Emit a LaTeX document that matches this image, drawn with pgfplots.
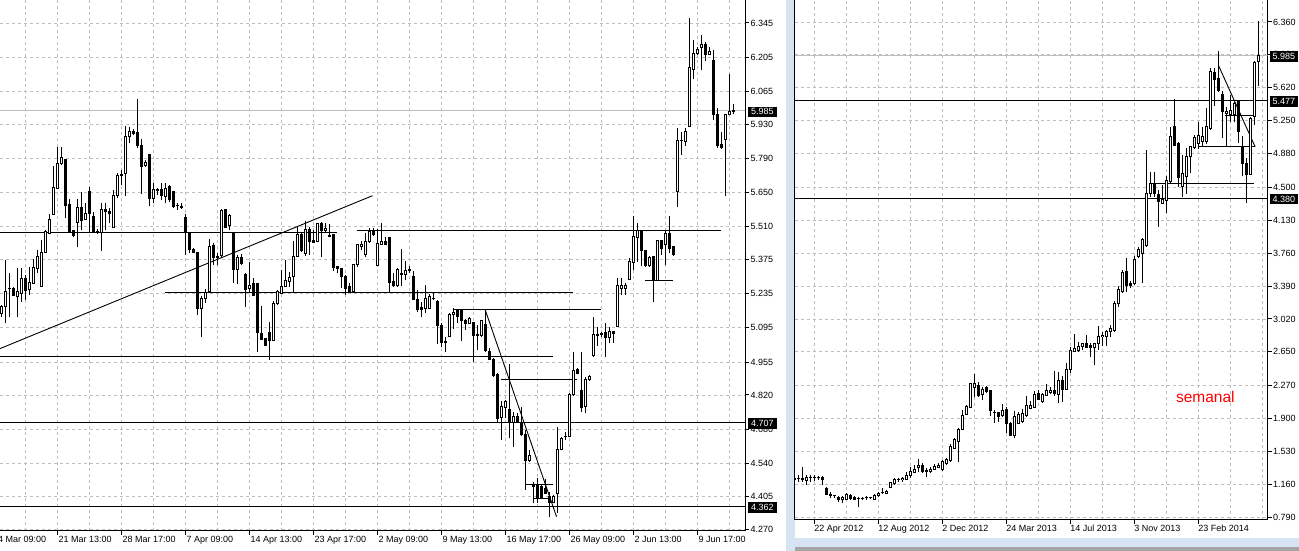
\documentclass[border=0pt]{standalone}
\usepackage{fontspec}
\setmainfont{Liberation Sans}
\usepackage{pgfplots}
\pgfplotsset{compat=1.18}
\usepackage{pgfplotstable}
\definecolor{gridc}{RGB}{190,190,190}
\definecolor{sepc}{RGB}{214,227,242}
\definecolor{barc}{RGB}{165,165,165}

\pgfplotstableread{
k o h l c
0 5.154 5.188 5.140 5.181
1 5.181 5.373 5.113 5.243
2 5.255 5.318 5.140 5.258
3 5.257 5.264 5.225 5.229
4 5.222 5.339 5.140 5.243
5 5.236 5.339 5.202 5.298
6 5.298 5.311 5.209 5.250
7 5.253 5.346 5.229 5.281
8 5.277 5.377 5.274 5.341
9 5.339 5.414 5.318 5.387
10 5.264 5.455 5.264 5.404
11 5.404 5.496 5.400 5.489
12 5.482 5.562 5.479 5.541
13 5.560 5.758 5.557 5.671
14 5.667 5.838 5.664 5.767
15 5.767 5.835 5.762 5.794
16 5.786 5.786 5.544 5.596
17 5.601 5.623 5.482 5.489
18 5.493 5.496 5.469 5.473
19 5.527 5.622 5.425 5.589
20 5.589 5.653 5.496 5.537
21 5.540 5.605 5.537 5.564
22 5.656 5.671 5.489 5.564
23 5.553 5.571 5.485 5.489
24 5.490 5.499 5.479 5.488
25 5.485 5.608 5.411 5.581
26 5.582 5.605 5.496 5.571
27 5.571 5.585 5.523 5.564
28 5.505 5.660 5.505 5.637
29 5.637 5.732 5.626 5.720
30 5.720 5.742 5.680 5.722
31 5.728 5.922 5.635 5.879
32 5.879 5.920 5.851 5.899
33 5.900 5.909 5.885 5.892
34 5.896 6.032 5.831 5.842
35 5.844 5.868 5.642 5.756
36 5.762 5.783 5.753 5.772
37 5.806 5.806 5.594 5.626
38 5.626 5.687 5.605 5.663
39 5.660 5.667 5.639 5.661
40 5.663 5.687 5.619 5.639
41 5.635 5.690 5.605 5.667
42 5.674 5.680 5.612 5.622
43 5.656 5.656 5.585 5.594
44 5.597 5.605 5.578 5.595
45 5.594 5.608 5.582 5.589
46 5.546 5.562 5.393 5.485
47 5.485 5.485 5.400 5.417
48 5.417 5.421 5.403 5.406
49 5.404 5.404 5.147 5.175
50 5.175 5.225 5.056 5.216
51 5.216 5.253 5.195 5.239
52 5.246 5.458 5.239 5.430
53 5.434 5.441 5.352 5.384
54 5.389 5.400 5.352 5.382
55 5.393 5.581 5.380 5.578
56 5.581 5.581 5.503 5.507
57 5.516 5.562 5.496 5.557
58 5.485 5.489 5.277 5.335
59 5.335 5.393 5.274 5.384
60 5.384 5.397 5.352 5.359
61 5.315 5.318 5.181 5.253
62 5.257 5.366 5.236 5.270
63 5.277 5.298 5.229 5.229
64 5.277 5.277 4.997 5.075
65 5.072 5.184 5.045 5.047
66 5.052 5.052 5.020 5.024
67 5.075 5.120 4.965 5.042
68 5.042 5.206 5.042 5.195
69 5.195 5.250 5.188 5.243
70 5.236 5.332 5.233 5.264
71 5.264 5.373 5.261 5.291
72 5.284 5.325 5.264 5.302
73 5.304 5.450 5.243 5.389
74 5.387 5.510 5.384 5.476
75 5.476 5.485 5.407 5.411
76 5.398 5.535 5.390 5.499
77 5.499 5.510 5.394 5.448
78 5.455 5.496 5.442 5.444
79 5.448 5.526 5.446 5.524
80 5.524 5.530 5.387 5.494
81 5.494 5.524 5.483 5.503
82 5.472 5.521 5.466 5.471
83 5.476 5.476 5.330 5.343
84 5.346 5.346 5.321 5.339
85 5.339 5.339 5.257 5.305
86 5.305 5.312 5.230 5.257
87 5.264 5.278 5.237 5.243
88 5.243 5.353 5.237 5.353
89 5.353 5.435 5.343 5.435
90 5.428 5.452 5.414 5.437
91 5.394 5.483 5.384 5.448
92 5.448 5.503 5.444 5.490
93 5.496 5.503 5.472 5.476
94 5.349 5.499 5.349 5.439
95 5.438 5.526 5.435 5.448
96 5.448 5.469 5.435 5.437
97 5.466 5.469 5.243 5.280
98 5.284 5.319 5.264 5.267
99 5.267 5.339 5.264 5.335
100 5.319 5.417 5.267 5.315
101 5.315 5.370 5.291 5.332
102 5.332 5.349 5.321 5.333
103 5.305 5.330 5.209 5.212
104 5.212 5.250 5.161 5.171
105 5.178 5.202 5.138 5.171
106 5.175 5.271 5.154 5.216
107 5.175 5.234 5.171 5.223
108 5.216 5.237 5.209 5.215
109 5.202 5.209 5.030 5.104
110 5.104 5.113 5.015 5.034
111 5.041 5.059 4.997 5.034
112 5.059 5.155 5.056 5.148
113 5.148 5.175 5.089 5.157
114 5.166 5.171 5.114 5.141
115 5.166 5.171 5.043 5.125
116 5.125 5.130 5.086 5.114
117 5.114 5.138 5.111 5.134
118 5.116 5.120 4.956 5.063
119 5.069 5.107 5.004 5.063
120 5.063 5.127 5.059 5.125
121 5.107 5.166 4.997 5.004
122 5.000 5.011 4.963 4.966
123 4.966 4.970 4.895 4.898
124 4.902 4.909 4.703 4.724
125 4.727 4.796 4.635 4.772
126 4.768 4.799 4.724 4.795
127 4.761 4.947 4.642 4.710
128 4.706 4.751 4.605 4.731
129 4.731 4.747 4.703 4.710
130 4.703 4.769 4.652 4.656
131 4.656 4.676 4.430 4.550
132 4.550 4.594 4.546 4.570
133 4.453 4.464 4.375 4.444
134 4.453 4.478 4.375 4.396
135 4.444 4.453 4.392 4.396
136 4.437 4.474 4.414 4.416
137 4.405 4.423 4.318 4.378
138 4.378 4.410 4.375 4.403
139 4.416 4.690 4.334 4.597
140 4.597 4.649 4.594 4.642
141 4.649 4.669 4.635 4.650
142 4.649 4.826 4.646 4.822
143 4.822 4.997 4.816 4.922
144 4.926 4.929 4.906 4.909
145 4.840 4.997 4.751 4.769
146 4.772 4.895 4.744 4.884
147 4.884 4.902 4.878 4.895
148 4.980 5.141 4.977 5.066
149 5.065 5.100 5.021 5.066
150 5.068 5.079 5.059 5.072
151 5.075 5.113 4.977 5.056
152 5.056 5.100 5.034 5.079
153 5.079 5.083 5.034 5.072
154 5.100 5.298 5.097 5.267
155 5.257 5.298 5.230 5.267
156 5.258 5.278 5.230 5.267
157 5.294 5.383 5.291 5.369
158 5.363 5.553 5.332 5.469
159 5.466 5.523 5.366 5.496
160 5.492 5.492 5.350 5.414
161 5.414 5.414 5.346 5.349
162 5.349 5.390 5.346 5.384
163 5.387 5.387 5.202 5.291
164 5.291 5.455 5.291 5.455
165 5.452 5.455 5.394 5.421
166 5.435 5.492 5.353 5.482
167 5.482 5.553 5.400 5.421
168 5.430 5.430 5.391 5.396
169 5.653 5.913 5.592 5.865
170 5.862 5.899 5.804 5.864
171 5.858 5.916 5.841 5.902
172 5.920 6.367 5.920 6.163
173 6.155 6.275 6.114 6.221
174 6.221 6.248 6.214 6.238
175 6.245 6.296 6.152 6.255
176 6.255 6.268 6.189 6.216
177 6.216 6.248 6.214 6.230
178 6.193 6.234 5.947 5.970
179 5.968 5.995 5.831 5.842
180 5.845 5.899 5.828 5.834
181 5.868 5.970 5.637 5.968
182 5.970 6.134 5.968 5.981
183 5.984 6.011 5.970 5.985
}\leftdata

\pgfplotstableread{
k o h l c
0 1.219 1.245 1.189 1.221
1 1.226 1.264 1.189 1.228
2 1.219 1.358 1.189 1.221
3 1.200 1.264 1.151 1.238
4 1.234 1.264 1.189 1.236
5 1.238 1.264 1.200 1.236
6 1.234 1.253 1.208 1.236
7 1.238 1.253 1.151 1.215
8 1.114 1.133 1.039 1.050
9 1.050 1.076 1.001 1.028
10 1.028 1.039 1.001 1.030
11 1.013 1.028 0.964 0.983
12 0.983 1.028 0.945 1.013
13 0.990 1.065 0.983 1.050
14 1.039 1.050 0.983 1.001
15 1.013 1.028 0.983 0.990
16 1.001 1.020 0.900 1.003
17 1.001 1.020 0.983 1.003
18 1.009 1.028 0.983 1.011
19 1.009 1.020 0.990 1.011
20 0.990 1.046 0.983 1.031
21 1.031 1.076 1.020 1.058
22 1.065 1.114 1.050 1.067
23 1.058 1.095 1.050 1.084
24 1.125 1.189 1.114 1.178
25 1.170 1.226 1.151 1.215
26 1.215 1.226 1.189 1.217
27 1.208 1.238 1.189 1.226
28 1.215 1.301 1.208 1.264
29 1.253 1.358 1.226 1.301
30 1.294 1.376 1.282 1.331
31 1.346 1.440 1.301 1.376
32 1.376 1.395 1.282 1.301
33 1.320 1.339 1.245 1.301
34 1.301 1.358 1.282 1.328
35 1.328 1.388 1.320 1.358
36 1.350 1.395 1.339 1.376
37 1.328 1.433 1.313 1.414
38 1.395 1.451 1.376 1.433
39 1.425 1.613 1.414 1.583
40 1.564 1.676 1.553 1.658
41 1.639 1.789 1.414 1.778
42 1.778 1.995 1.770 1.939
43 1.950 2.051 1.939 2.040
44 2.025 2.303 2.025 2.288
45 2.250 2.400 2.138 2.288
46 2.276 2.314 2.145 2.153
47 2.175 2.258 2.108 2.228
48 2.250 2.265 2.183 2.201
49 2.213 2.213 1.928 1.988
50 1.965 1.995 1.853 1.967
51 1.965 1.976 1.864 1.920
52 1.928 2.063 1.913 1.988
53 2.003 2.025 1.740 1.838
54 1.838 1.864 1.703 1.714
55 1.703 1.988 1.676 1.920
56 1.845 1.976 1.838 1.950
57 1.864 2.003 1.845 1.958
58 1.939 2.153 1.920 2.051
59 2.014 2.100 2.003 2.051
60 2.025 2.213 2.014 2.175
61 2.183 2.220 2.108 2.115
62 2.089 2.190 2.078 2.175
63 2.164 2.288 2.153 2.213
64 2.190 2.258 2.175 2.213
65 2.220 2.437 2.153 2.183
66 2.175 2.426 2.070 2.332
67 2.332 2.378 2.089 2.228
68 2.228 2.520 2.220 2.452
69 2.452 2.700 2.415 2.670
70 2.659 2.850 2.651 2.689
71 2.670 2.764 2.651 2.715
72 2.715 2.750 2.670 2.738
73 2.745 2.839 2.689 2.700
74 2.726 2.750 2.595 2.700
75 2.700 2.750 2.501 2.738
76 2.738 2.940 2.670 2.820
77 2.820 2.876 2.715 2.839
78 2.820 2.895 2.715 2.884
79 2.876 2.951 2.820 2.914
80 2.888 3.225 2.876 3.195
81 3.188 3.390 3.150 3.353
82 3.326 3.570 3.315 3.545
83 3.555 3.700 3.326 3.401
84 3.420 3.450 3.364 3.401
85 3.420 3.727 3.401 3.690
86 3.720 3.832 3.701 3.802
87 3.757 3.926 3.420 3.915
88 3.851 4.920 3.832 4.432
89 4.432 4.676 4.395 4.545
90 4.545 4.676 4.395 4.432
91 4.414 4.470 4.057 4.339
92 4.320 4.526 4.312 4.365
93 4.357 4.627 4.215 4.582
94 4.564 5.182 4.553 5.070
95 5.190 5.490 4.965 4.976
96 4.988 5.014 4.507 4.612
97 4.507 4.864 4.395 4.657
98 4.620 4.939 4.425 4.852
99 4.845 4.965 4.665 4.957
100 4.950 5.089 4.927 5.062
101 4.995 5.239 4.927 5.078
102 5.014 5.182 4.957 5.070
103 5.014 5.389 4.987 5.182
104 5.164 5.839 5.145 5.801
105 5.790 5.839 5.415 5.715
106 5.726 6.037 5.576 5.588
107 5.550 5.588 5.051 5.351
108 5.330 5.408 4.957 5.350
109 5.314 5.539 5.239 5.370
110 5.325 5.464 5.239 5.445
111 5.464 5.483 4.995 5.126
112 4.965 5.078 4.627 4.770
113 4.770 4.826 4.320 4.639
114 4.650 5.288 4.639 5.276
115 5.295 5.925 5.201 5.902
116 5.914 6.375 5.640 5.985
}\rightdata

% #1 table, #2 half-pixel in price units, #3 threshold (3 half-pixels)
\newcommand{\candles}[3]{%
  \addplot[black, line width=1pt, arrows=-,
    quiver={u=0, v=\thisrow{h}-\thisrow{l}}] table[x=k, y=l] {#1};
  \addplot[black, line width=3.4pt, arrows=-,
    quiver={u=0, v=abs(\thisrow{c}-\thisrow{o})+2*#2}]
    table[x=k, y expr={min(\thisrow{o},\thisrow{c})-#2}] {#1};
  \addplot[white, line width=1.4pt, arrows=-,
    restrict expr to domain={\thisrow{c}-\thisrow{o}}{#3:100},
    quiver={u=0, v=\thisrow{c}-\thisrow{o}-2*#2}]
    table[x=k, y expr={\thisrow{o}+#2}] {#1};
}

\pgfplotsset{
  mt/.style={
    scale only axis,
    axis x line*=bottom, axis y line*=right,
    axis line style={black, line width=1pt},
    grid=both,
    major grid style={gridc, line width=0.8pt, dash pattern=on 3pt off 3pt},
    minor grid style={gridc, line width=0.8pt, dash pattern=on 3pt off 3pt},
    tick style={black, line width=1pt},
    major tick length=4pt, minor tick length=0pt,
    tick align=outside,
    tick label style={font=\fontsize{9}{10}\selectfont, text=black},
    xticklabel style={anchor=north west, inner sep=0pt, xshift=1pt, yshift=-1pt},
    yticklabel style={anchor=west, inner sep=0pt, xshift=1.5pt},
  },
}

\begin{document}
\begin{tikzpicture}[x=1pt,y=1pt]
\fill[white] (0,0) rectangle (1299,551);
\fill[sepc] (786,0) rectangle (794.7,551);
\fill[sepc] (794.7,4) rectangle (1299,13);
\fill[barc] (794.7,0) rectangle (1299,4);
\useasboundingbox (0,0) rectangle (1299,551);

% ---------------- left panel (H1) ----------------
\begin{axis}[mt,
  at={(0pt,20pt)}, anchor=south west, width=745pt, height=531pt,
  xmin=-0.333, xmax=185.92, ymin=4.2622, ymax=6.4393,
  xtick={14,30,46,62,78,94,110,126,142,158,174},
  xticklabels={21 Mar 13:00,28 Mar 17:00,7 Apr 09:00,14 Apr 13:00,23 Apr 17:00,2 May 09:00,9 May 13:00,16 May 17:00,26 May 09:00,2 Jun 13:00,9 Jun 17:00},
  minor xtick={6,22,38,54,70,86,102,118,134,150,166,182},
  ytick={6.345,6.205,6.065,5.930,5.790,5.650,5.510,5.375,5.235,5.095,4.955,4.820,4.680,4.540,4.405,4.270},
  yticklabels={6.345,6.205,6.065,5.930,5.790,5.650,5.510,5.375,5.235,5.095,4.955,4.820,4.680,4.540,4.405,4.270},
]
\addplot[gridc, line width=1pt] coordinates {(-0.333,5.985) (185.92,5.985)};
\addplot[black, line width=1pt] coordinates {(-0.333,4.707) (185.92,4.707)};
\addplot[black, line width=1pt] coordinates {(-0.333,4.362) (185.92,4.362)};
\addplot[black, line width=1pt] coordinates {(-0.333,5.487) (83.8,5.487)};
\addplot[black, line width=1pt] coordinates {(88.8,5.496) (179.8,5.496)};
\addplot[black, line width=0.9pt] coordinates {(-0.333,5.010) (92.8,5.637)};
\addplot[black, line width=1pt] coordinates {(40.9,5.239) (142.8,5.239)};
\addplot[black, line width=1pt] coordinates {(-0.333,4.979) (137.8,4.979)};
\addplot[black, line width=1pt] coordinates {(112.8,5.172) (149.8,5.172)};
\addplot[black, line width=0.9pt] coordinates {(120.9,5.172) (138.8,4.321)};
\addplot[black, line width=1pt] coordinates {(124.8,4.884) (143.8,4.884)};
\addplot[black, line width=1pt] coordinates {(131.1,4.454) (137.8,4.454)};
\addplot[black, line width=1pt] coordinates {(133.0,4.397) (137.2,4.397)};
\addplot[black, line width=1pt] coordinates {(160.9,5.290) (167.8,5.290)};
\candles{\leftdata}{0.002}{0.006}
\coordinate (LA) at (axis cs:185.92,5.985);
\coordinate (LB) at (axis cs:185.92,4.707);
\coordinate (LC) at (axis cs:185.92,4.362);
\end{axis}

% ---------------- right panel (weekly) ----------------
\begin{axis}[mt,
  at={(794.67pt,31pt)}, anchor=south west, width=472.83pt, height=520pt,
  xmin=0, xmax=118.2, ymin=0.758, ymax=6.6075,
  xtick={5,21,37,53,69,85,101},
  xticklabels={22 Apr 2012,12 Aug 2012,2 Dec 2012,24 Mar 2013,14 Jul 2013,3 Nov 2013,23 Feb 2014},
  minor xtick={13,29,45,61,77,93,109,117},
  ytick={6.360,5.990,5.620,5.250,4.880,4.500,4.130,3.760,3.390,3.020,2.650,2.270,1.900,1.530,1.160,0.790},
  yticklabels={6.360,5.990,5.620,5.250,4.880,4.500,4.130,3.760,3.390,3.020,2.650,2.270,1.900,1.530,1.160,0.790},
  xticklabel style={xshift=-1.5pt},
]
\addplot[gridc, line width=1pt] coordinates {(0,5.985) (118.2,5.985)};
\addplot[black, line width=1pt] coordinates {(0,5.477) (118.2,5.477)};
\addplot[black, line width=1pt] coordinates {(0,4.380) (118.2,4.380)};
\addplot[black, line width=1pt] coordinates {(88.8,4.546) (114.7,4.546)};
\addplot[black, line width=1pt] coordinates {(100.7,4.965) (115.1,4.965)};
\addplot[black, line width=1pt] coordinates {(107.6,5.303) (115.1,5.303)};
\addplot[black, line width=0.9pt] coordinates {(105.9,5.876) (115.1,4.957)};
\candles{\rightdata}{0.0056}{0.017}
\coordinate (RA) at (axis cs:118.2,5.985);
\coordinate (RB) at (axis cs:118.2,5.477);
\coordinate (RC) at (axis cs:118.2,4.380);
\end{axis}
\draw[black, line width=1pt] (794.67,31) -- (794.67,551);

% price labels
\tikzset{pl/.style={fill=black, text=white, anchor=west, inner xsep=3pt, inner ysep=0pt,
  minimum height=10.5pt, font=\fontsize{9}{10}\selectfont}}
\node[pl] at ([xshift=3pt,yshift=-1pt]LA) {5.985};
\node[pl] at ([xshift=3pt,yshift=-1pt]LB) {4.707};
\node[pl] at ([xshift=3pt,yshift=-1pt]LC) {4.362};
\node[pl, inner xsep=2.5pt] at ([xshift=2.5pt,yshift=-1pt]RA) {5.985};
\node[pl, inner xsep=2.5pt] at ([xshift=2.5pt,yshift=-1pt]RB) {5.477};
\node[pl, inner xsep=2.5pt] at ([xshift=2.5pt,yshift=-1pt]RC) {4.380};

\node[anchor=north west, inner sep=0pt, font=\fontsize{9}{10}\selectfont] at (-2,15) {4 Mar 09:00};
\node[text=red, font=\fontsize{15.5}{18}\selectfont] at (1205.3,154.3) {semanal};
\end{tikzpicture}
\end{document}
